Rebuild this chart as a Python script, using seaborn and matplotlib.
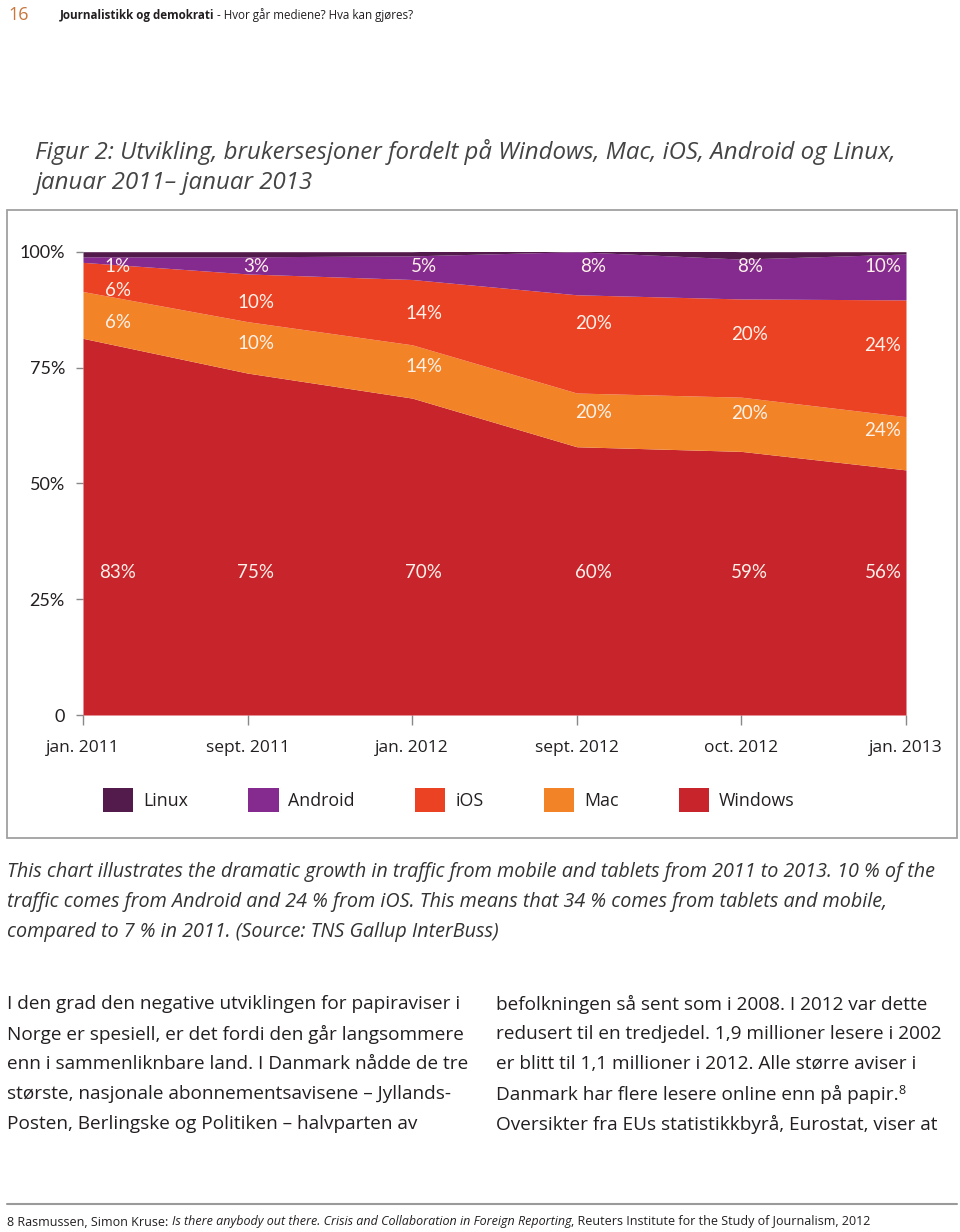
import matplotlib
matplotlib.use("Agg")
import matplotlib.pyplot as plt
from matplotlib.patches import Rectangle, Patch
from matplotlib.lines import Line2D
import pandas as pd
import seaborn as sns

###############################################################################
# Data
###############################################################################
periods = ["jan. 2011", "sept. 2011", "jan. 2012", "sept. 2012", "oct. 2012", "jan. 2013"]

# band thickness as drawn (percent of sessions)
windows = [81.3, 73.8, 68.4, 57.9, 56.9, 52.9]
mac = [10.1, 11.1, 11.5, 11.6, 11.7, 11.5]
ios = [6.3, 10.3, 14.1, 21.2, 21.2, 25.2]
android = [1.2, 3.7, 5.1, 9.3, 8.6, 9.9]
linux = [1.1, 1.1, 0.9, 1.0, 1.6, 0.5]

# the printed labels inside the bands
windows_lbl = ["83%", "75%", "70%", "60%", "59%", "56%"]
mac_lbl = ["6%", "10%", "14%", "20%", "20%", "24%"]
ios_lbl = ["6%", "10%", "14%", "20%", "20%", "24%"]
android_lbl = ["1%", "3%", "5%", "8%", "8%", "10%"]

df = pd.DataFrame({"period": periods, "Windows": windows, "Mac": mac,
                   "iOS": ios, "Android": android, "Linux": linux})

colors = {"Linux": "#521b4b", "Android": "#852a8e", "iOS": "#ec4224",
          "Mac": "#f28427", "Windows": "#c8242c"}

###############################################################################
# Theme / fonts
###############################################################################
sns.set_theme(style="white")
plt.rcParams["font.family"] = ["Open Sans", "DejaVu Sans"]
NUM = ["Lato", "DejaVu Sans"]
TXT = "#231f20"

fig = plt.figure(figsize=(9.6, 12.32), dpi=100)

# page overlay in pixel coordinates
page = fig.add_axes([0, 0, 1, 1])
page.set_xlim(0, 960)
page.set_ylim(1232, 0)
page.axis("off")

# header
page.text(8, 15, "16", color="#c8773d", fontsize=13, va="center")
h1 = page.text(60, 15, "Journalistikk og demokrati", color=TXT, fontsize=8.4,
               fontweight="bold", va="center")
page.annotate(" - Hvor går mediene? Hva kan gjøres?", xy=(1, 0), xycoords=h1,
              va="bottom", ha="left", fontsize=8.4, color=TXT)

# figure title
page.text(35, 152, "Figur 2: Utvikling, brukersesjoner fordelt på Windows, Mac, iOS, Android og Linux,",
          fontsize=17.3, style="italic", color="#444444", va="center")
page.text(35, 183, "januar 2011– januar 2013", fontsize=17.3, style="italic",
          color="#444444", va="center")

# frame around chart
page.add_patch(Rectangle((7, 210), 950, 628, fill=False, edgecolor="#a0a0a0", lw=1.3))

###############################################################################
# Stacked area chart
###############################################################################
ax = fig.add_axes([83 / 960, 1 - 715 / 1232, (906 - 83) / 960, (715 - 251.7) / 1232])
x = list(range(len(df)))
order = ["Windows", "Mac", "iOS", "Android", "Linux"]
ax.stackplot(x, *[df[c] for c in order], colors=[colors[c] for c in order],
             labels=order, linewidth=0)
ax.set_xlim(0, len(df) - 1)
ax.set_ylim(0, 100)
sns.despine(ax=ax, left=True, bottom=True)

ax.set_yticks([0, 25, 50, 75, 100])
ax.set_yticklabels(["0", "25%", "50%", "75%", "100%"], fontfamily=NUM, fontsize=13, color=TXT)
ax.set_xticks(x)
ax.set_xticklabels(df["period"], fontsize=12.5, color=TXT)
ax.tick_params(axis="y", which="both", left=True, length=5, width=1, color="#888888",
               pad=8, direction="out")
ax.tick_params(axis="x", which="both", bottom=True, length=7, width=1, color="#888888",
               pad=11, direction="out")
ax.grid(False)

# value labels
lbl_x = [0.21, 1.05, 2.07, 3.1, 4.05, 4.86]
lbl_rows = [
    (android_lbl, [96.9] * 6),
    (ios_lbl, [91.6, 89.0, 86.6, 84.4, 82.1, 79.7]),
    (mac_lbl, [84.7, 80.1, 75.2, 65.2, 65.0, 61.3]),
    (windows_lbl, [30.7] * 6),
]
for labels, ys in lbl_rows:
    for xi, yi, t in zip(lbl_x, ys, labels):
        ax.text(xi, yi, t, ha="center", va="center", color="#fdf1ea",
                fontsize=13.5, fontfamily=NUM)

# legend
legend_order = ["Linux", "Android", "iOS", "Mac", "Windows"]
handles = [Patch(facecolor=colors[c], edgecolor="none") for c in legend_order]
fig.legend(handles, legend_order, loc="center left",
           bbox_to_anchor=(103 / 960, 1 - 800 / 1232), ncol=5, frameon=False,
           fontsize=12.8, handlelength=1.7, handleheight=1.7, handletextpad=0.55,
           columnspacing=3.4, borderpad=0, borderaxespad=0, labelcolor=TXT)

###############################################################################
# Caption and body text
###############################################################################
caption = [
    "This chart illustrates the dramatic growth in traffic from mobile and tablets from 2011 to 2013. 10 % of the",
    "traffic comes from Android and 24 % from iOS. This means that 34 % comes from tablets and mobile,",
    "compared to 7 % in 2011. (Source: TNS Gallup InterBuss)",
]
for i, line in enumerate(caption):
    page.text(7, 872 + 30 * i, line, fontsize=14.2, style="italic", color="#333333", va="center")

left_col = [
    "I den grad den negative utviklingen for papiraviser i",
    "Norge er spesiell, er det fordi den går langsommere",
    "enn i sammenliknbare land. I Danmark nådde de tre",
    "største, nasjonale abonnementsavisene – Jyllands-",
    "Posten, Berlingske og Politiken – halvparten av",
]
right_col = [
    "befolkningen så sent som i 2008. I 2012 var dette",
    "redusert til en tredjedel. 1,9 millioner lesere i 2002",
    "er blitt til 1,1 millioner i 2012. Alle større aviser i",
    "Danmark har flere lesere online enn på papir.",
    "Oversikter fra EUs statistikkbyrå, Eurostat, viser at",
]
for i, line in enumerate(left_col):
    page.text(7, 1004 + 30 * i, line, fontsize=13.7, color=TXT, va="center")
for i, line in enumerate(right_col):
    t = page.text(496, 1004 + 30 * i, line, fontsize=13.7, color=TXT, va="center")
    if i == 3:
        page.annotate("8", xy=(1, 1), xycoords=t, xytext=(-0.5, 0), textcoords="offset points",
                      va="top", ha="left", fontsize=9, color=TXT)

# footnote
page.add_line(Line2D([7, 957], [1204, 1204], color="#9a9a9a", lw=1.5))
f1 = page.text(7, 1222, "8 Rasmussen, Simon Kruse: ", fontsize=9, color=TXT, va="center")
f2 = page.annotate("Is there anybody out there. Crisis and Collaboration in Foreign Reporting",
                   xy=(1, 0), xycoords=f1, va="bottom", ha="left", fontsize=9,
                   style="italic", color=TXT)
page.annotate(", Reuters Institute for the Study of Journalism, 2012", xy=(1, 0), xycoords=f2,
              va="bottom", ha="left", fontsize=9, color=TXT)

fig.savefig("out.png", dpi=100)
